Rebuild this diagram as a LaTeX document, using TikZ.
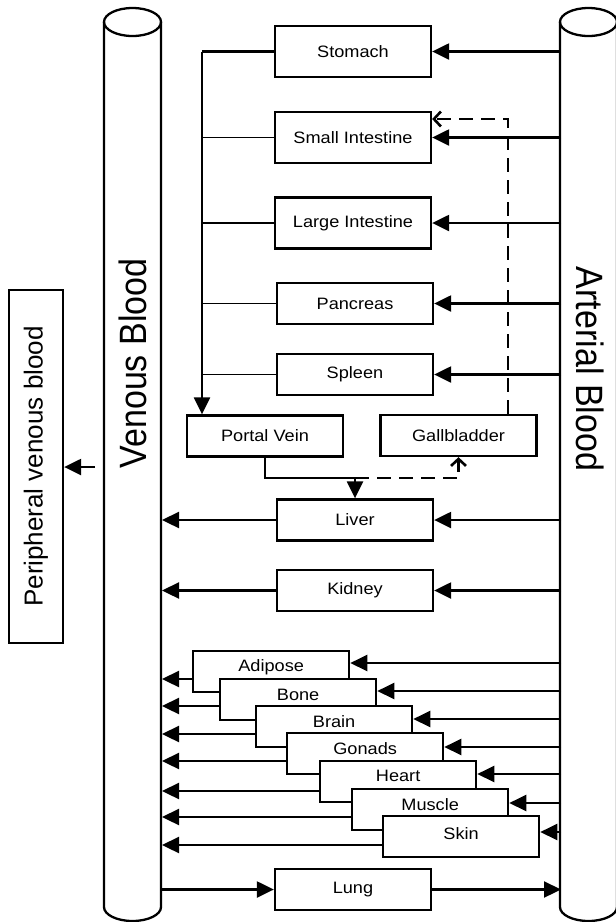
\documentclass[tikz,border=0pt]{standalone}
\usepackage{fontspec}
\usepackage{graphicx}
\setmainfont{Liberation Sans}
\usetikzlibrary{arrows.meta,calc}
\newcommand{\ot}[1]{\scalebox{1.1}[1]{#1}}
\begin{document}
\begin{tikzpicture}[x={(1pt,0)},y={(0,-1pt)},
  organ/.style={draw, line width=2.3pt, fill=white, minimum width=156pt,
    minimum height=41pt, inner sep=0pt, font=\fontsize{16.5}{19}\selectfont},
  tall/.style={minimum height=51pt},
  stack/.style={organ, anchor=north west, inner ysep=0pt},
  arr/.style={line width=2.3pt, -{Triangle[length=17pt,width=16pt]}},
  feed/.style={line width=1.7pt},
  dsh/.style={line width=2.3pt, dash pattern=on 14pt off 8pt,
    -{Straight Barb[length=7pt,width=15pt,line width=2.6pt]}},
  cyl/.style={line width=2.3pt},
  biglabel/.style={font=\fontsize{34}{40}\selectfont, inner sep=0pt}]
\useasboundingbox (0,0) rectangle (616,922);
\clip (0,0) rectangle (616,922);
% cylinders
\draw[cyl] (132.5,22) ellipse [x radius=28.5pt, y radius=14pt];
\draw[cyl] (104,22) -- (104,907) arc[start angle=180, end angle=360, x radius=28.5pt, y radius=14pt] -- (161,22);
\draw[cyl] (588.5,22) ellipse [x radius=28.5pt, y radius=14pt];
\draw[cyl] (560,22) -- (560,907) arc[start angle=180, end angle=360, x radius=28.5pt, y radius=14pt] -- (617,22);
\node[biglabel, rotate=90] (venlab) at (133,363.5) {\scalebox{1}[1.12]{Venous Blood}};
\node[biglabel, rotate=-90] (artlab) at (590,369) {\scalebox{1}[1.12]{Arterial Blood}};
\coordinate (ven) at (162,0);
\coordinate (art) at (561,0);
\coordinate (spine) at (202,0);
% organs
\node[organ,tall] (stomach) at (353,51.5) {\ot{Stomach}};
\node[organ,tall] (smallint) at (353,137.5) {\ot{Small Intestine}};
\node[organ,tall] (largeint) at (353,223) {\ot{Large Intestine}};
\node[organ] (pancreas) at (355,303.5) {\ot{Pancreas}};
\node[organ] (spleen) at (355,374.5) {\ot{Spleen}};
\node[organ] (portal) at (265,436) {\ot{Portal Vein}};
\node[organ] (gall) at (458.5,435.5) {\ot{Gallbladder}};
\node[organ] (liver) at (355,520) {\ot{Liver}};
\node[organ] (kidney) at (355,590.5) {\ot{Kidney}};
\node[organ] (lung) at (353,889.5) {\ot{Lung}};
\node[draw, line width=2.3pt, rotate=90, minimum width=353pt, minimum height=54pt,
  inner sep=0pt, font=\fontsize{26}{30}\selectfont] (periph) at (36,466.5) {Peripheral venous blood};
% arterial supply
\foreach \n in {stomach,smallint,largeint,pancreas,spleen,liver,kidney}
  \draw[arr] (art |- \n.east) -- (\n.east);
% venous return
\foreach \n in {liver,kidney}
  \draw[arr] (\n.west) -- (ven |- \n.west);
% splanchnic to portal vein
\draw[line width=2.3pt] (stomach.west) -- (spine |- stomach.west);
\foreach \n in {smallint,largeint,pancreas,spleen}
  \draw[feed] (\n.west) -- (spine |- \n.west);
\draw[arr] (spine |- stomach.west) -- (spine |- portal.north);
\coordinate (j) at (355,478);
\draw[arr] (portal.south) |- (j) -- (liver.north);
\draw[dsh] (j) -| (gall.south);
\coordinate (g1) at (508,119);
\draw[dsh] (gall.north -| g1) |- (smallint.east |- g1);
% stacked tissues
\foreach \nm/\lab/\x/\y/\th/\td in {adipose/Adipose/192/650/20/21, bone/Bone/219/678/21/20,
  brain/Brain/255/705/21/20, gonads/Gonads/286/732/21/20, heart/Heart/319/760/20/21,
  muscle/Muscle/351/788/21/20, skin/Skin/382/815/23/18}
  \node[stack, text height=\th pt, text depth=\td pt] (\nm) at (\x,\y) {\ot{\lab}};
\foreach \nm/\t/\v in {adipose/13/29, bone/13/28, brain/14/29, gonads/15/29,
  heart/14/31, muscle/15/29, skin/17/30} {
  \path ($(\nm.north east)+(0,\t)$) coordinate (p\nm);
  \path ($(\nm.north west)+(0,\v)$) coordinate (q\nm);
  \draw[arr] (art |- p\nm) -- (p\nm);
  \draw[arr] (q\nm) -- (ven |- q\nm);
}
% lung
\draw[arr] (ven |- lung.west) -- (lung.west);
\draw[arr] (lung.east) -- (art |- lung.east);
% peripheral
\coordinate (pstart) at (95,467);
\draw[arr] (pstart) -- (pstart -| periph.south);
\end{tikzpicture}
\end{document}
